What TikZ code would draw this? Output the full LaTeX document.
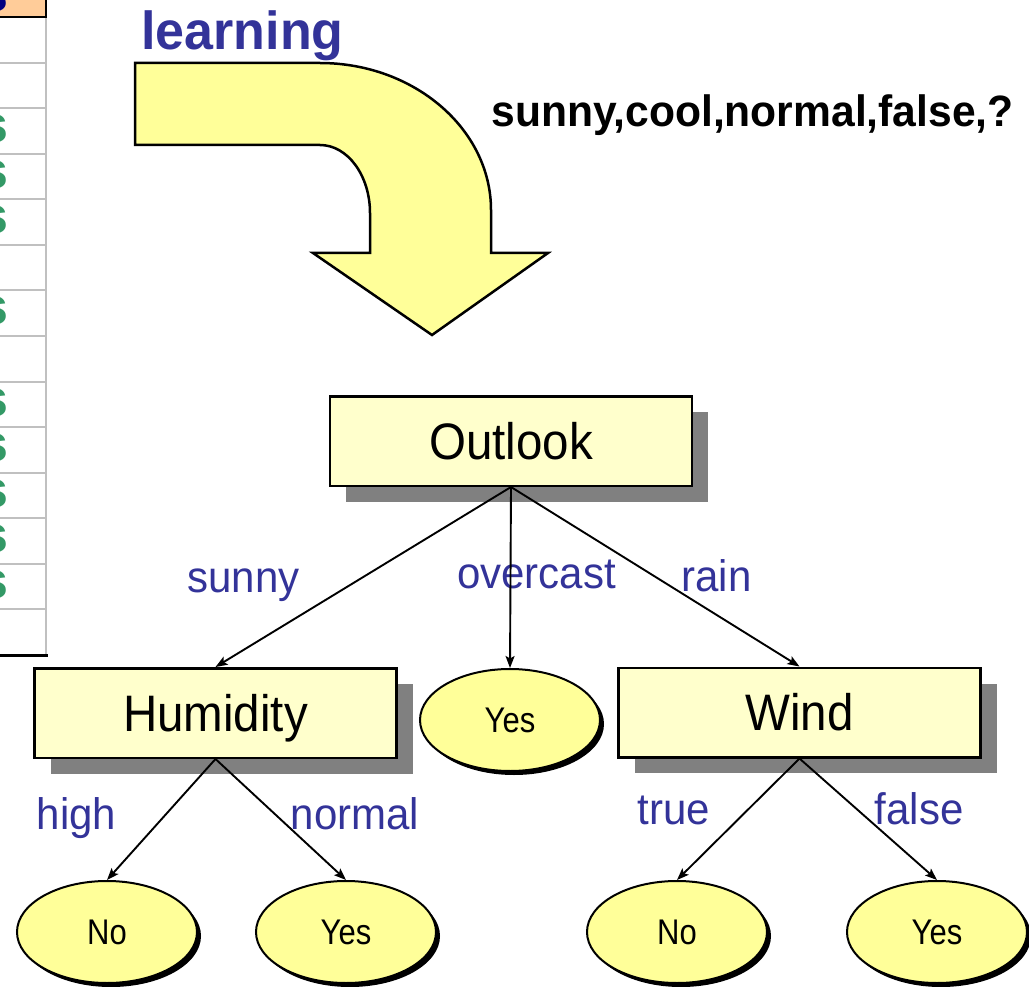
\documentclass[tikz,border=0pt]{standalone}
\usepackage{fontspec}
\setmainfont{Liberation Sans}
\usepackage{graphicx}
\usetikzlibrary{shapes.geometric,arrows.meta,shadows}

\definecolor{boxfill}{HTML}{FFFFCC}
\definecolor{leaffill}{HTML}{FFFF99}
\definecolor{bendfill}{HTML}{FFFF99}
\definecolor{labelblue}{HTML}{333399}
\definecolor{shadowgray}{HTML}{808080}
\definecolor{yesgreen}{HTML}{339966}
\definecolor{headfill}{HTML}{FFCC99}
\definecolor{headblue}{HTML}{000080}
\definecolor{gridgray}{HTML}{C0C0C0}

\newcommand\tallertext[2]{\scalebox{1}[#1]{#2}}
\newcommand\boxfont{\fontsize{47.5pt}{57pt}\selectfont}
\newcommand\leaffont{\fontsize{31pt}{37pt}\selectfont}
\newcommand\branchfont{\fontsize{42pt}{50pt}\selectfont}
\newcommand\tablefont{\fontsize{52pt}{60pt}\selectfont\bfseries}

\begin{document}
\begin{tikzpicture}[x=1pt,y=-1pt,
  treebox/.style={rectangle, draw=black, line width=2.5pt, fill=boxfill,
    minimum width=362pt, minimum height=89.5pt, inner sep=0pt,
    text height=36.7pt, text depth=0pt, font=\boxfont,
    drop shadow={shadow xshift=16pt, shadow yshift=-16pt, fill=shadowgray, opacity=1}},
  leaf/.style={ellipse, draw=black, line width=2pt, fill=leaffill,
    minimum width=180pt, minimum height=102pt, inner sep=0pt,
    text height=25.5pt, text depth=0pt, font=\leaffont,
    drop shadow={shadow xshift=4pt, shadow yshift=-4pt, fill=black, opacity=1}},
  branch/.style={font=\branchfont, text=labelblue, anchor=base, inner sep=0pt},
  edge/.style={line width=1.9pt, -{Stealth[length=12pt, width=9pt, inset=2.5pt]}},
  cell/.style={anchor=base east, inner sep=0pt, font=\tablefont}
]
\useasboundingbox (0,0) rectangle (1029,987);

% --- data table at the left edge ---
\fill[headfill] (0,0) rectangle (46,17);
\foreach \k in {1,...,13}
  \draw[gridgray, line width=2pt] (0,{17+45.57*\k}) -- (46,{17+45.57*\k});
\draw[gridgray, line width=2.5pt] (46,17) -- (46,655);
\begin{scope}
  \clip (0,0) rectangle (44.5,653.5);
  \node[cell, text=headblue] (hdr) at (9,12) {Class};
  \foreach \k/\v/\r in {1/No/1.5, 2/No/1.5, 3/Yes/9, 4/Yes/9, 5/Yes/9,
      6/No/1.5, 7/Yes/9, 8/No/1.5, 9/Yes/9, 10/Yes/9, 11/Yes/9,
      12/Yes/9, 13/Yes/9, 14/No/1.5}
    \node[cell, text=yesgreen] (row\k) at (\r,{17+45.57*\k-11}) {\v};
\end{scope}
\draw[black, line width=2.5pt] (0,17) -- (47,17);
\draw[black, line width=2.5pt] (46,0) -- (46,17);
\draw[black, line width=3pt] (0,655) -- (47.5,655);

% --- bent "learning" arrow ---
\draw[line width=2.5pt, fill=bendfill, line join=miter]
  (135,63) -- (320,63)
  .. controls (414,63) and (491,129) .. (491,210)
  -- (491,253) -- (548,253) -- (432,335) -- (313,253) -- (370,253)
  -- (370,213)
  .. controls (370,175.5) and (347.6,145) .. (320,145)
  -- (135,145) -- cycle;
\node[font=\fontsize{52pt}{60pt}\selectfont\bfseries, text=labelblue, anchor=base, inner sep=0pt]
  (learn) at (242.5,50) {\tallertext{1.03}{learning}};
\node[font=\fontsize{42.6pt}{50pt}\selectfont\bfseries, anchor=base, inner sep=0pt]
  (query) at (752.5,127) {\tallertext{1.03}{sunny,cool,normal,false,?}};

% --- decision tree ---
\node[treebox] (outlook) at (511,441) {\tallertext{1.08}{Outlook}};
\node[treebox] (humidity) at (215.5,713) {\tallertext{1.08}{Humidity}};
\node[treebox] (wind) at (799.5,712.5) {\tallertext{1.08}{Wind}};

\node[leaf] (ovyes) at (510,720) {\tallertext{1.15}{Yes}};
\node[leaf] (hino) at (107,932) {\tallertext{1.15}{No}};
\node[leaf] (noyes) at (346,932) {\tallertext{1.15}{Yes}};
\node[leaf] (trno) at (677,932) {\tallertext{1.15}{No}};
\node[leaf] (fayes) at (937,932) {\tallertext{1.15}{Yes}};

\node[branch] (lsunny) at (243.5,592) {\tallertext{1.05}{sunny}};
\node[branch] (lover) at (536.5,588) {\tallertext{1.05}{overcast}};
\node[branch] (lrain) at (716.5,591) {\tallertext{1.05}{rain}};
\node[branch] (lhigh) at (76.5,829) {\tallertext{1.05}{high}};
\node[branch] (lnormal) at (355,829) {\tallertext{1.05}{normal}};
\node[branch] (ltrue) at (674,824) {\tallertext{1.05}{true}};
\node[branch] (lfalse) at (919,824) {\tallertext{1.05}{false}};

\draw[edge] (outlook.south) -- (humidity.north);
\draw[edge] (outlook.south) -- (ovyes.north);
\draw[edge] (outlook.south) -- (wind.north);
\draw[edge] (humidity.south) -- (hino.north);
\draw[edge] (humidity.south) -- (noyes.north);
\draw[edge] (wind.south) -- (trno.north);
\draw[edge] (wind.south) -- (fayes.north);
\end{tikzpicture}
\end{document}
